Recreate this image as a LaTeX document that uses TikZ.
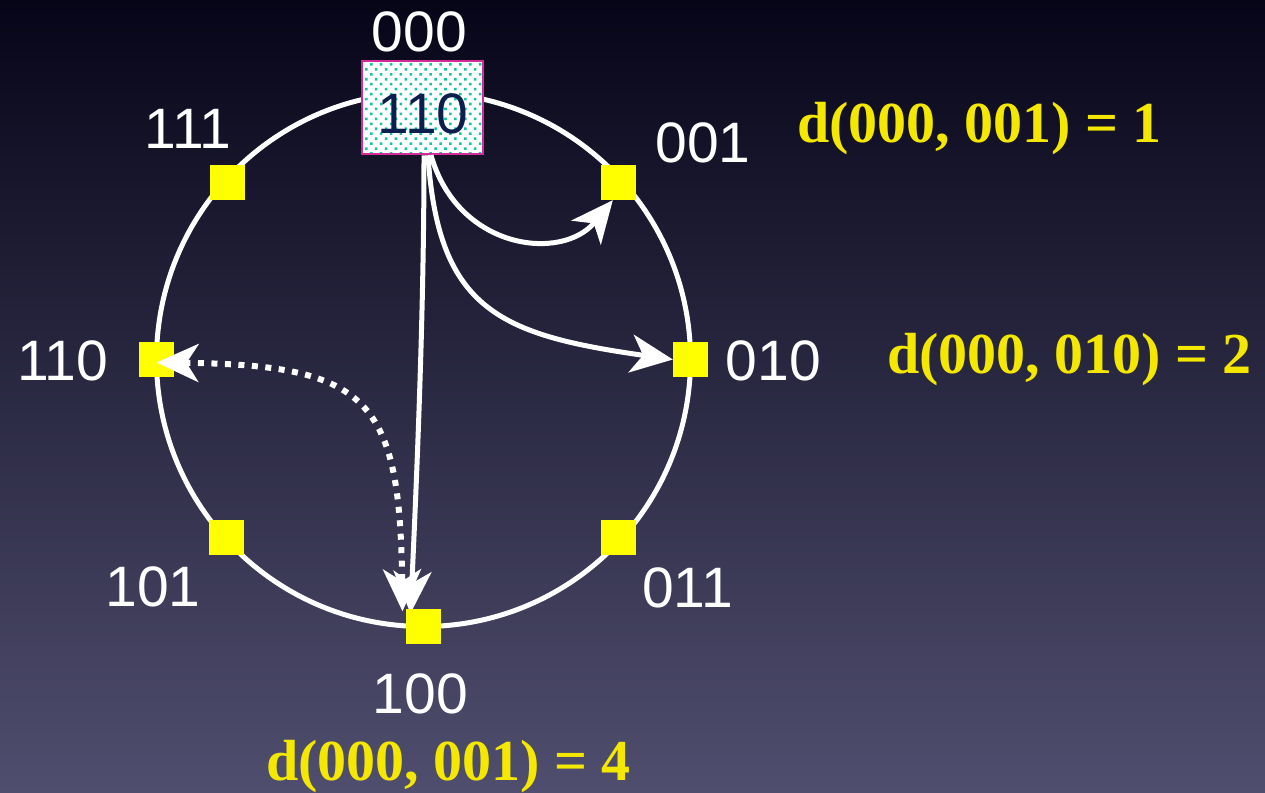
\documentclass[tikz,border=0pt]{standalone}
\usepackage{fontspec}
\setmainfont{Liberation Sans}
\newfontfamily\dfont{Liberation Serif}
\usetikzlibrary{arrows.meta,patterns.meta}

\definecolor{bgtop}{RGB}{6,5,24}
\definecolor{bgmid}{RGB}{32,30,68}
\definecolor{bgbot}{RGB}{80,78,110}
\definecolor{hiyellow}{RGB}{255,255,0}
\definecolor{lblyellow}{RGB}{244,232,0}
\definecolor{boxpink}{RGB}{212,44,150}
\definecolor{dotteal}{RGB}{20,196,164}
\definecolor{boxnavy}{RGB}{12,30,78}

\tikzset{
  sq/.style={fill=hiyellow, minimum size=35pt, inner sep=0pt, draw=none},
  lbl/.style={text=white, font=\fontsize{57}{60}\selectfont, anchor=base, inner sep=0pt},
  dist/.style={text=lblyellow, font=\dfont\bfseries\fontsize{58}{62}\selectfont, anchor=base, inner sep=0pt},
  arr/.style={white, line width=5pt, -{Stealth[length=42pt,width=38pt,inset=12pt]}},
  dotarr/.style={white, line width=6pt, dash pattern=on 6pt off 7.5pt,
    {Stealth[length=42pt,width=38pt,inset=12pt]}-{Stealth[length=42pt,width=38pt,inset=12pt]}},
  ring/.style={white, line width=5pt},
}

\begin{document}
\begin{tikzpicture}[x=1pt,y=-1pt]
\useasboundingbox (0,0) rectangle (1265,792);
% background
\shade[top color=bgtop, middle color=bgmid, bottom color=bgbot] (0,0) rectangle (1265,792);

% ring
\draw[ring] (423.5,359.5) circle[radius=267pt];

% start node
\node[preaction={fill=white}, pattern={Dots[radius=1.8pt,distance=7pt,angle=45]},
      pattern color=dotteal, draw=boxpink, line width=2.5pt,
      minimum width=121pt, minimum height=93pt, inner sep=0pt] (box) at (422.5,107.5) {};
\node[lbl, text=boxnavy] (boxlbl) at (423,133) {110};

% ring members
\node[sq] (sq111) at (227,182.5) {};
\node[sq] (sq001) at (618.5,182.5) {};
\node[sq] (sq010) at (690.5,359.5) {};
\node[sq] (sq011) at (618.5,537.5) {};
\node[sq] (sq100) at (423.5,626) {};
\node[sq] (sq101) at (226.5,537.5) {};
\node[sq] (sq110) at (156.5,359.5) {};

% hops
\draw[arr] ([xshift=8.5pt]box.south) .. controls (458,250) and (562,262) .. ([xshift=12pt]sq001.south west);
\draw[arr] ([xshift=5.5pt]box.south) .. controls (438,310) and (500,335) .. (sq010.west);
\draw[arr] ([xshift=1.5pt]box.south) .. controls (424,300) and (418,450) .. ([xshift=-13pt,yshift=-5pt]sq100.north);

% squares over the arrow ends
\node[sq] at (sq001) {};
\node[sq] at (sq010) {};
\node[sq] at (sq100) {};

% two-way dotted link
\draw[dotarr] ([yshift=-3pt]sq110.center) .. controls (370,365) and (400,400) .. ([xshift=-21pt,yshift=-3pt]sq100.north);

% labels
\node[lbl] (l000) at (419.5,52) {000};
\node[lbl] (l111) at (188,148) {111};
\node[lbl] (l001) at (703,162) {001};
\node[lbl] (l110) at (62.5,380) {110};
\node[lbl] (l010) at (773.5,380) {010};
\node[lbl] (l101) at (153,606) {101};
\node[lbl] (l011) at (687.5,607) {011};
\node[lbl] (l100) at (420.5,713) {100};

% distances
\node[dist] (d1) at (979.5,142) {d(000, 001) = 1};
\node[dist] (d2) at (1069.5,373) {d(000, 010) = 2};
\node[dist] (d4) at (448.5,780) {d(000, 001) = 4};
\end{tikzpicture}
\end{document}
